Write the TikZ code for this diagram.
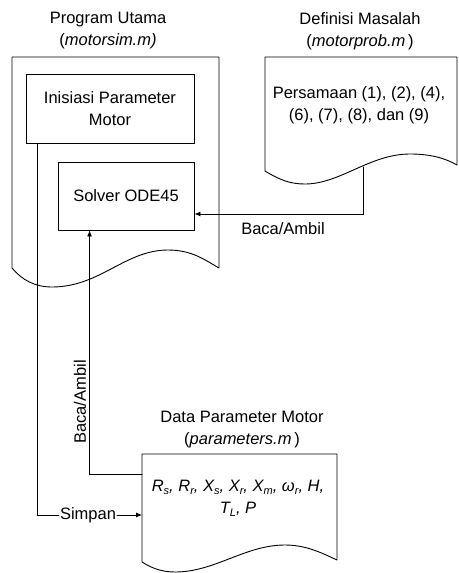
\documentclass[tikz,border=0pt]{standalone}
\usepackage{fontspec}
\setmainfont{Liberation Sans}
\usetikzlibrary{arrows.meta,positioning}
\tikzset{
  every node/.style={font=\fontsize{16.5}{22}\selectfont},
  title/.style={align=center, inner sep=0pt},
  procbox/.style={draw, line width=0.9pt, align=center},
  doc/.style={draw, line width=0.9pt, fill=white, line join=round},
  flow/.style={line width=0.9pt},
  flow arrow/.style={flow, -{Latex[length=6pt,width=5pt]}}
}
\newcommand{\lowsub}[1]{\raisebox{-3pt}{\fontsize{11}{11}\selectfont\itshape #1}}

\begin{document}
\begin{tikzpicture}[x=1pt,y=-1pt,line cap=round]
  \useasboundingbox (0,0) rectangle (458,573);

  % documents
  \draw[doc] (12,57) -- (219,57) -- (219,268)
    .. controls (205,260) and (192,250) .. (168,250)
    .. controls (125,250) and (100,287) .. (52,287)
    .. controls (35,287) and (22,280) .. (12,268) -- cycle;
  \draw[doc] (265,57) -- (457,57) -- (457,165)
    .. controls (445,158) and (430,154) .. (410,154)
    .. controls (370,154) and (340,184) .. (305,184)
    .. controls (290,184) and (280,180) .. (265,171) -- cycle;
  \draw[doc] (142,454) -- (337,454) -- (337,560)
    .. controls (320,552) and (305,545) .. (285,545)
    .. controls (245,545) and (215,572) .. (175,572)
    .. controls (160,572) and (150,567) .. (142,562) -- cycle;

  \node[title] (maintitle) at (108,31) {Program Utama\\(\textit{motorsim.m)}};
  \node[title] (probtitle) at (360,31) {Definisi Masalah\\(\textit{motorprob.m}\,)};
  \node[title] (partitle) at (242,430) {Data Parameter Motor\\(\textit{parameters.m}\,)};

  \node[procbox, minimum width=168pt, minimum height=69pt] (init) at (110,108.5)
    {Inisiasi Parameter\\Motor};
  \node[procbox, minimum width=136pt, minimum height=68pt] (solver) at (126,196)
    {Solver ODE45};

  \node[title] (eqn) at (359,105) {Persamaan (1), (2), (4),\\(6), (7), (8), dan (9)};
  \node[title, font=\fontsize{16.5}{22}\selectfont\itshape] (pardata) at (238,498) {%
    R\lowsub{s}, R\lowsub{r}, X\lowsub{s}, X\lowsub{r},
    X\lowsub{m}, ω\lowsub{r}, H,\\
    T\lowsub{L}, P};

  % connectors
  \coordinate (probout) at (363,167);
  \coordinate (probturn) at (363,214);
  \coordinate (parread) at (142,474);
  \coordinate (parin) at (142,515);
  \draw[flow arrow] (probout) -- (probturn) -- (solver.east |- probturn);
  \node (readprob) at (283,229) {Baca/Ambil};

  \draw[flow arrow] (parread) -| ([xshift=32pt]solver.south west);
  \node[rotate=90] (readpar) at (80,402) {Baca/Ambil};

  \node[inner sep=1pt] (store) at (88,515) {Simpan};
  \draw[flow] ([xshift=12pt]init.south west) |- (store.west);
  \draw[flow arrow] (store.east) -- (parin);

\end{tikzpicture}
\end{document}
